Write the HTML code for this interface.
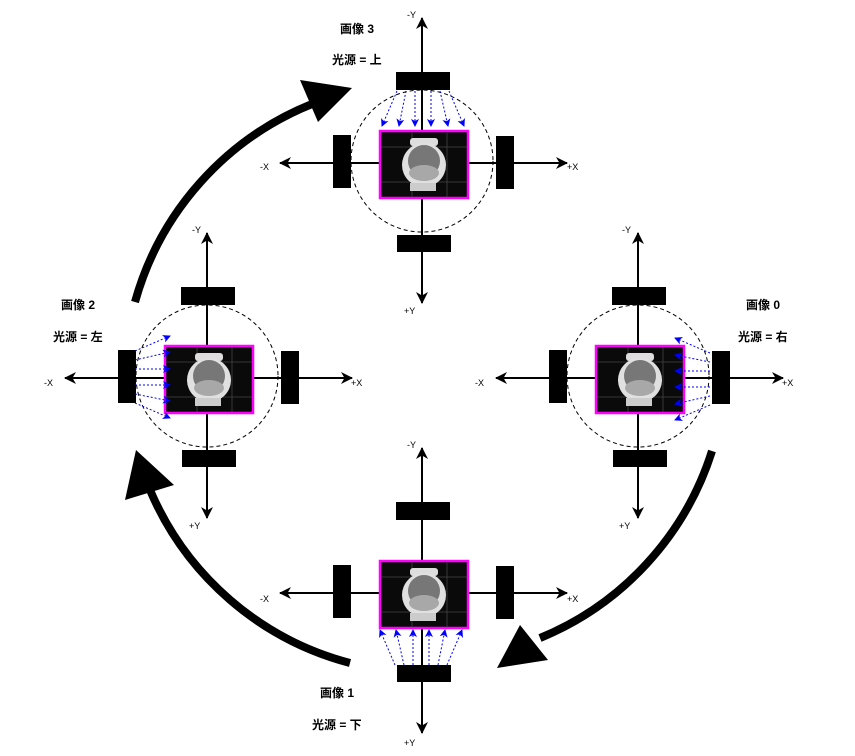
<!DOCTYPE html>
<html><head><meta charset="utf-8"><style>
html,body{margin:0;padding:0;background:#fff;}
svg{display:block;font-family:"Liberation Sans","Noto Sans CJK JP",sans-serif;}
</style></head><body>
<svg width="855" height="756" viewBox="0 0 855 756" xmlns="http://www.w3.org/2000/svg">
<defs>
<marker id="ah" markerWidth="12" markerHeight="12" refX="11" refY="6" orient="auto" markerUnits="userSpaceOnUse">
<path d="M0,0 L12,6 L0,12 L3.5,6 Z" fill="#000"/></marker>
<marker id="bh" markerWidth="8" markerHeight="8" refX="7" refY="4" orient="auto" markerUnits="userSpaceOnUse">
<path d="M0,0 L8,4 L0,8 L2,4 Z" fill="#00f"/></marker>
<g id="grp">
<line x1="0" y1="140" x2="0" y2="-145" stroke="#000" stroke-width="2" marker-end="url(#ah)"/>
<line x1="0" y1="-140" x2="0" y2="140" stroke="#000" stroke-width="2" marker-end="url(#ah)"/>
<line x1="140" y1="0" x2="-142" y2="0" stroke="#000" stroke-width="2" marker-end="url(#ah)"/>
<line x1="-140" y1="0" x2="145" y2="0" stroke="#000" stroke-width="2" marker-end="url(#ah)"/>
<rect x="-26" y="-91" width="54" height="18" fill="#000"/>
<rect x="-25" y="72" width="54" height="17" fill="#000"/>
<rect x="-89" y="-28" width="18" height="53" fill="#000"/>
<rect x="74" y="-27" width="18" height="53" fill="#000"/>
<rect x="-42" y="-32" width="88" height="67" fill="#0a0a0a" stroke="#f0f" stroke-width="2.5"/>
<g stroke="#444" stroke-width="0.8">
<line x1="-10" y1="-31" x2="-10" y2="34"/><line x1="25" y1="-31" x2="25" y2="34"/>
<line x1="-41" y1="-16" x2="45" y2="-16"/><line x1="-41" y1="19" x2="45" y2="19"/>
</g>
<rect x="-12" y="-25" width="28" height="8" rx="3" fill="#ddd"/>
<circle cx="2" cy="2" r="22" fill="#e0e0e0"/>
<circle cx="2" cy="-2" r="16" fill="#777"/>
<ellipse cx="2" cy="10" rx="15" ry="8" fill="#a8a8a8"/>
<rect x="-12" y="20" width="26" height="8" fill="#ccc"/>
</g>
<g id="rays" stroke="#00f" stroke-width="1" stroke-dasharray="2,2" fill="none">
<line x1="-25" y1="-72" x2="-40" y2="-37" marker-end="url(#bh)"/>
<line x1="-16" y1="-72" x2="-23" y2="-37" marker-end="url(#bh)"/>
<line x1="-7" y1="-72" x2="-7" y2="-37" marker-end="url(#bh)"/>
<line x1="9" y1="-72" x2="9" y2="-37" marker-end="url(#bh)"/>
<line x1="18" y1="-72" x2="26" y2="-37" marker-end="url(#bh)"/>
<line x1="27" y1="-72" x2="42" y2="-37" marker-end="url(#bh)"/>
</g>
<circle id="circ" cx="0" cy="-2" r="71" fill="none" stroke="#000" stroke-width="1" stroke-dasharray="4,3"/>
</defs>

<g fill="none" stroke="#000" stroke-width="8">
<path d="M135,302 A300,300 0 0 1 312,104"/>
<path d="M350,663 A300,300 0 0 1 150,490"/>
<path d="M712,451 A300,300 0 0 1 540,638"/>
</g>
<polygon points="352,88 300,80 318,122" fill="#000"/>
<polygon points="136,450 125,500 174,485" fill="#000"/>
<polygon points="497,668 520,625 548,660" fill="#000"/>

<g transform="translate(422,163)"><use href="#circ"/><use href="#grp"/><use href="#rays"/></g>
<g transform="translate(638,378)"><use href="#circ"/><use href="#grp"/><use href="#rays" transform="rotate(90)"/></g>
<g transform="translate(207,378)"><use href="#circ"/><use href="#grp"/><use href="#rays" transform="rotate(-90)"/></g>
<g transform="translate(422,593)"><use href="#grp"/><use href="#rays" transform="rotate(180)"/></g>

<g font-size="9" fill="#000">
<text x="407" y="18">-Y</text><text x="404" y="314">+Y</text><text x="260" y="170">-X</text><text x="567" y="170">+X</text>
<text x="622" y="233">-Y</text><text x="619" y="529">+Y</text><text x="475" y="386">-X</text><text x="782" y="386">+X</text>
<text x="192" y="233">-Y</text><text x="189" y="529">+Y</text><text x="44" y="386">-X</text><text x="351" y="386">+X</text>
<text x="407" y="448">-Y</text><text x="404" y="746">+Y</text><text x="260" y="602">-X</text><text x="567" y="602">+X</text>
</g>
<g font-size="12" font-weight="bold" fill="#000">
<text x="340" y="33">画像 3</text><text x="332" y="64">光源 = 上</text>
<text x="746" y="309">画像 0</text><text x="738" y="341">光源 = 右</text>
<text x="61" y="309">画像 2</text><text x="53" y="341">光源 = 左</text>
<text x="320" y="697">画像 1</text><text x="312" y="729">光源 = 下</text>
</g>
</svg>
</body></html>
